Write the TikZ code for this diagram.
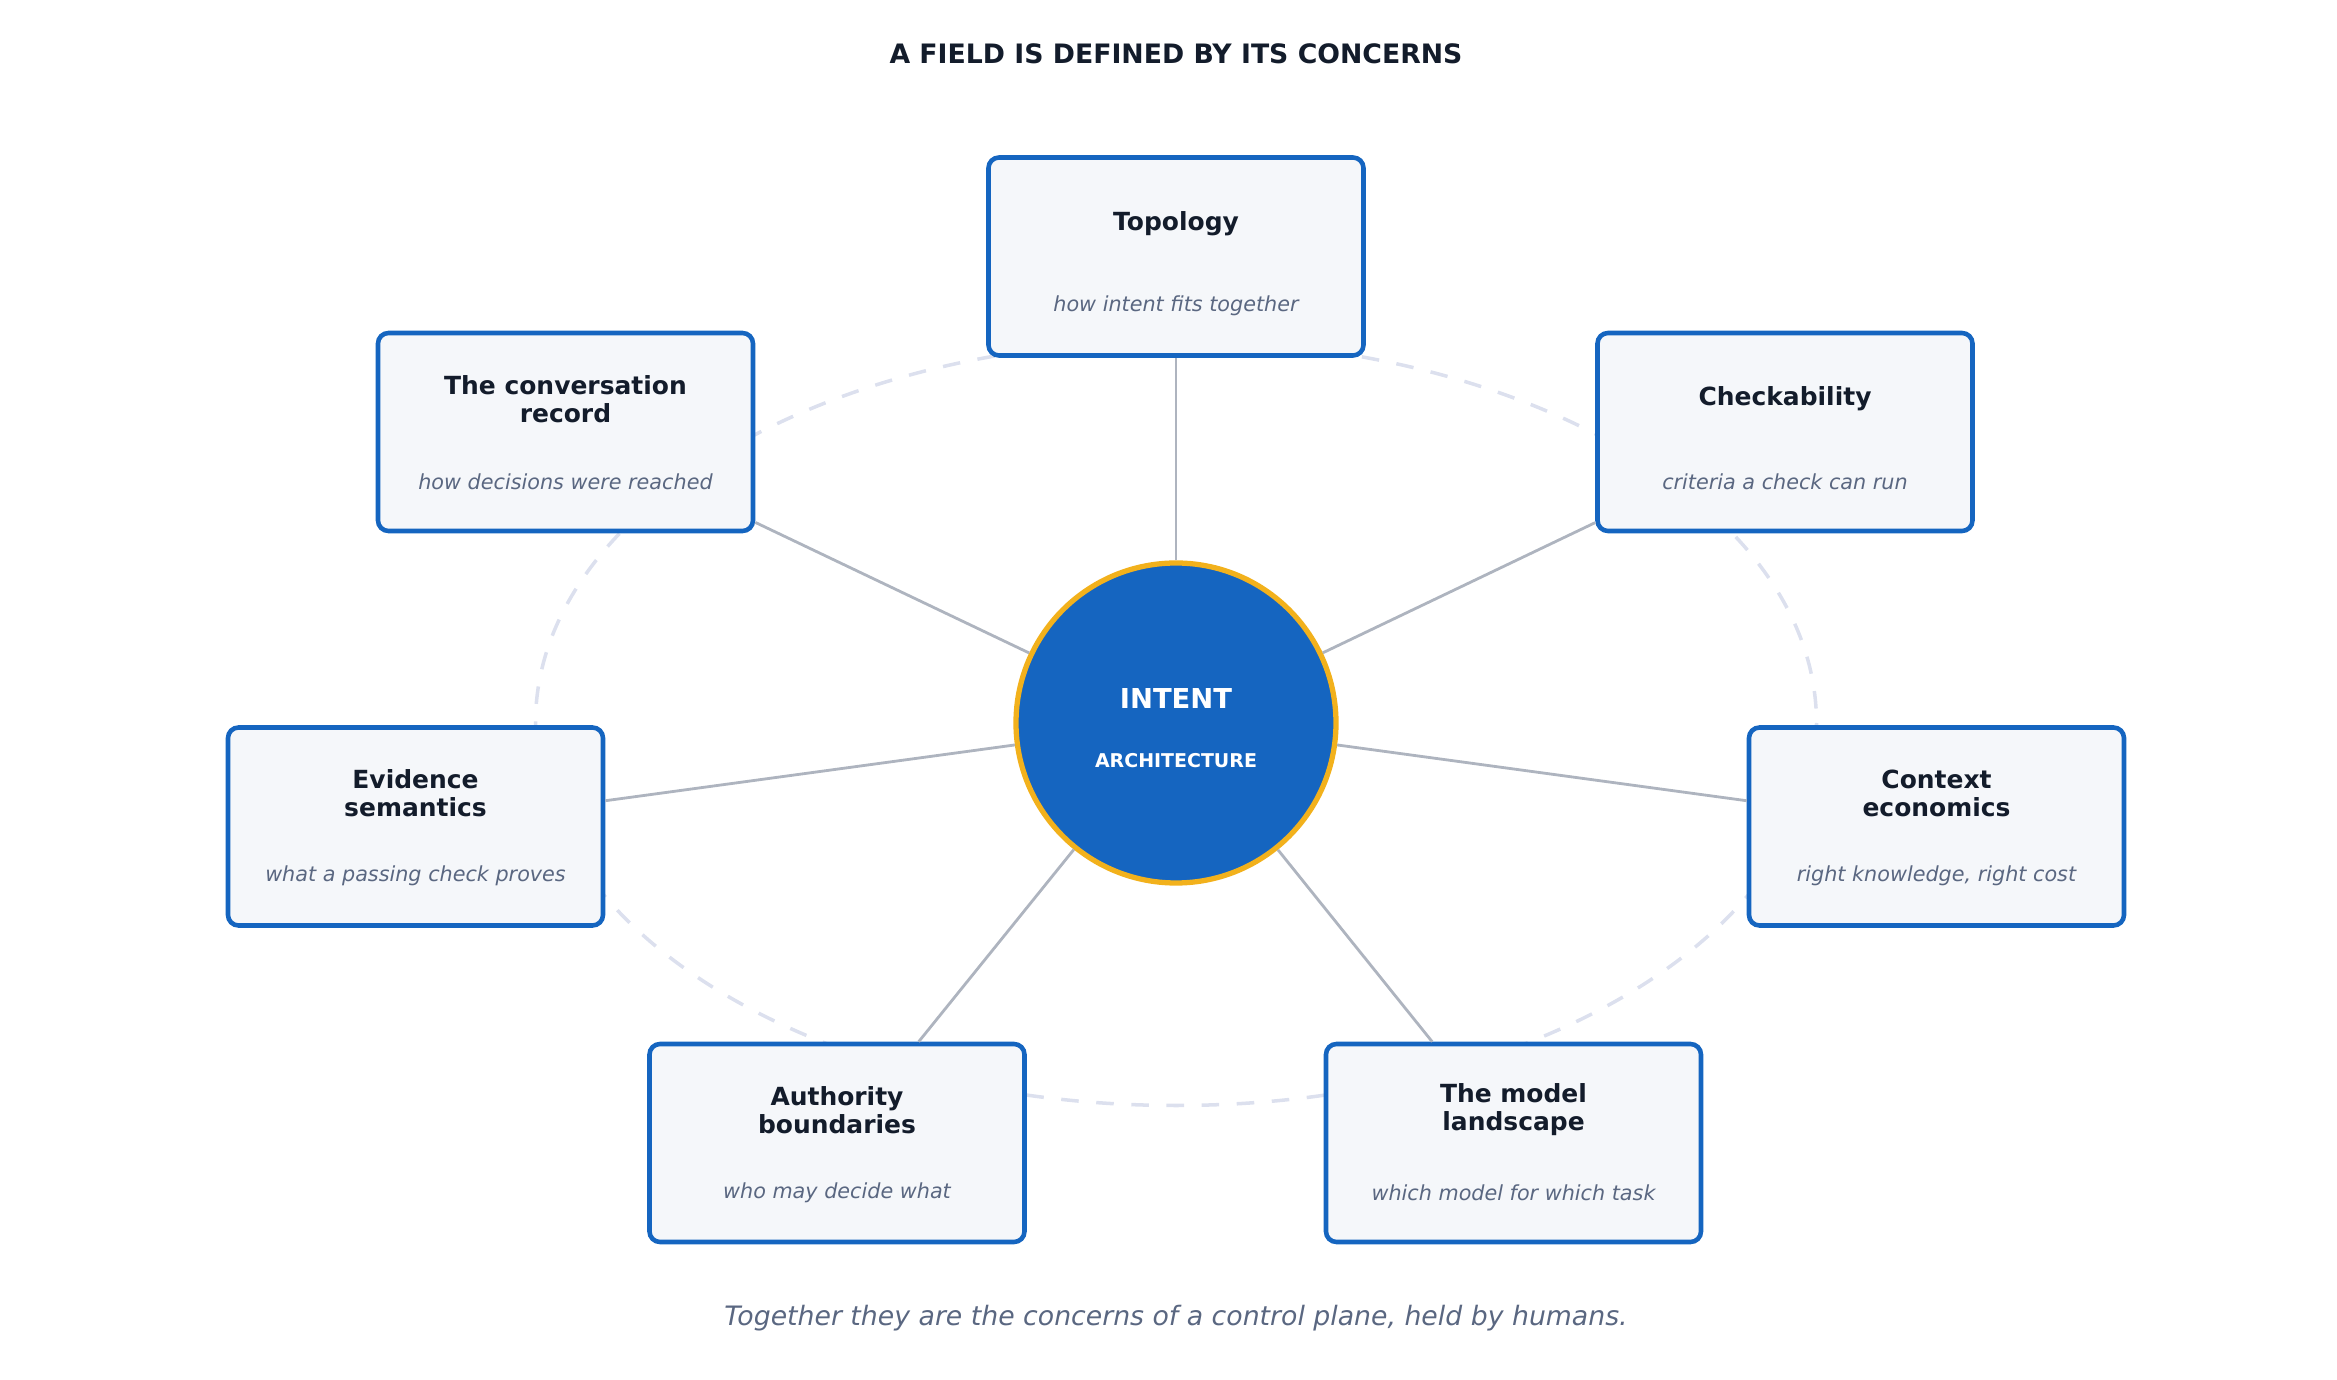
\documentclass[tikz,border=0pt]{standalone}
\usepackage{fontspec}
\setmainfont{DejaVu Sans}
\definecolor{ink}{HTML}{131C2B}
\definecolor{blueA}{HTML}{1565C0}
\definecolor{fillA}{HTML}{F5F7FA}
\definecolor{greyA}{HTML}{5A6781}
\definecolor{spoke}{HTML}{AEB4BF}
\definecolor{ring}{HTML}{DCE0EE}
\definecolor{gold}{HTML}{F2B11C}
\begin{document}
\begin{tikzpicture}[x=0.015cm,y=-0.015cm,
	concern/.style={draw=blueA,line width=1.3pt,fill=fillA,rounded corners=3pt,
		minimum width=3.75cm,minimum height=1.98cm},
	head/.style={font=\bfseries\fontsize{7.1}{8}\selectfont,text=ink,align=center},
	sub/.style={font=\itshape\fontsize{5.9}{7}\selectfont,text=greyA},
	link/.style={draw=spoke,line width=0.8pt}]
	%
	\useasboundingbox (0,0) rectangle (1558,920);
	% ring
		\draw[ring,line width=1pt,dash pattern=on 5pt off 5pt] (784,482) ellipse [x radius=427,y radius=255];
	% title
		\node[font=\bfseries\fontsize{7.6}{9}\selectfont,text=ink] (title) at (784,36) {A FIELD IS DEFINED BY ITS CONCERNS};
	% concerns
		\foreach \name/\x/\y/\head/\sub in {
			topo/784/171/Topology/how intent fits together,
			conv/377/288/The conversation\\record/how decisions were reached,
			check/1190/288/Checkability/criteria a check can run,
			evid/277/551/Evidence\\semantics/what a passing check proves,
			ctx/1291/551/Context\\economics/{right knowledge, right cost},
			auth/558/762/Authority\\boundaries/who may decide what,
			model/1009/762/The model\\landscape/which model for which task}{
			\node[concern] (\name) at (\x,\y) {};
			\node[head] (\name-head) at (\x,\y-22) {\head};
			\node[sub] (\name-sub) at (\x,\y+33) {\sub};
		}
	% hub
		\node[circle,draw=gold,line width=1.5pt,fill=blueA,minimum size=3.2cm] (hub) at (784,482) {};
		\foreach \name in {topo,conv,check,evid,ctx,auth,model}
			\draw[link] (hub) -- (\name);
		\node[font=\bfseries\fontsize{7.8}{9}\selectfont,text=white] (hub-top) at (784,466) {INTENT};
		\node[font=\bfseries\fontsize{5.4}{7}\selectfont,text=white] (hub-bot) at (784,507) {ARCHITECTURE};
	% footer
		\node[font=\itshape\fontsize{7.6}{9}\selectfont,text=greyA] (foot) at (784,879) {Together they are the concerns of a control plane, held by humans.};
\end{tikzpicture}
\end{document}
